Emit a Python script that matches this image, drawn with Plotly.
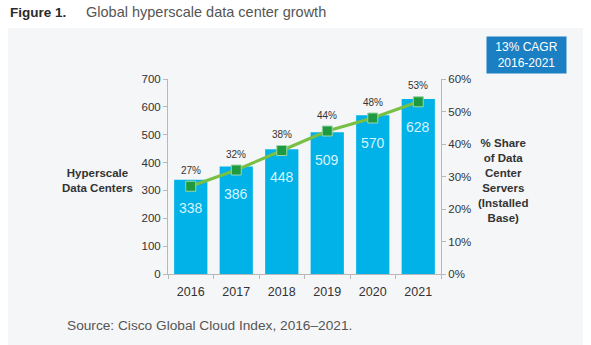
import plotly.graph_objects as go

years = ["2016", "2017", "2018", "2019", "2020", "2021"]
data_centers = [338, 386, 448, 509, 570, 628]
server_share = [27, 32, 38, 44, 48, 53]
share_labels = ["27%", "32%", "38%", "44%", "48%", "53%"]
left_ticks = [0, 100, 200, 300, 400, 500, 600, 700]
right_ticks = [0, 10, 20, 30, 40, 50, 60]
right_tick_labels = ["0%", "10%", "20%", "30%", "40%", "50%", "60%"]

W, H = 591, 345
L, R, T, B = 168, 441, 79, 274
pw, ph = R - L, B - T

def px(x):
    return (x - L) / pw

def py(y):
    return (B - y) / ph

FONT = "Liberation Sans, Arial, sans-serif"
TXT = "#333333"
AX = "#b8b8b8"

fig = go.Figure()
fig.add_trace(go.Bar(
    x=years, y=data_centers, marker=dict(color="#00b2e8", line=dict(width=0)),
    hoverinfo="skip", showlegend=False,
))
fig.add_trace(go.Scatter(
    x=years, y=server_share, yaxis="y2", mode="lines+markers",
    line=dict(color="#78bf44", width=3),
    marker=dict(symbol="square", size=10, color="#1f9a40",
                line=dict(color="#9ad6a6", width=1)),
    cliponaxis=False, showlegend=False, hoverinfo="skip",
))

annotations = []
for i, v in enumerate(data_centers):
    annotations.append(dict(
        x=i, y=v, xref="x", yref="y", text=str(v), showarrow=False,
        yshift=-28, yanchor="middle",
        font=dict(size=14, color="#d9f4ff", family=FONT)))
for i, (s, lab) in enumerate(zip(server_share, share_labels)):
    annotations.append(dict(
        x=i, y=s, xref="x", yref="y2", text=lab, showarrow=False,
        yshift=16, yanchor="middle",
        font=dict(size=10, color=TXT, family=FONT)))

annotations += [
    dict(xref="paper", yref="paper", x=px(8), y=py(12), xanchor="left", yanchor="middle",
         text="<b>Figure 1.</b>", showarrow=False, font=dict(size=13.5, color="#2a2a2a", family=FONT)),
    dict(xref="paper", yref="paper", x=px(84), y=py(12), xanchor="left", yanchor="middle",
         text="Global hyperscale data center growth", showarrow=False,
         font=dict(size=14.5, color="#555555", family=FONT)),
    dict(xref="paper", yref="paper", x=px(65), y=py(325), xanchor="left", yanchor="middle",
         text="Source: Cisco Global Cloud Index, 2016–2021.", showarrow=False,
         font=dict(size=13.7, color="#555555", family=FONT)),
    dict(xref="paper", yref="paper", x=px(97), y=py(180), xanchor="center", yanchor="middle",
         text="<b>Hyperscale<br>Data Centers</b>", showarrow=False, align="center",
         font=dict(size=11.5, color=TXT, family=FONT)),
    dict(xref="paper", yref="paper", x=px(503), y=py(180), xanchor="center", yanchor="middle",
         text="<b>% Share<br>of Data<br>Center<br>Servers<br>(Installed<br>Base)</b>",
         showarrow=False, align="center",
         font=dict(size=11.5, color=TXT, family=FONT)),
    dict(xref="paper", yref="paper", x=px(526.5), y=py(55), xanchor="center", yanchor="middle",
         text="13% CAGR<br>2016-2021", showarrow=False, align="center",
         bgcolor="#1a7fc3", width=77, height=34, borderpad=1,
         font=dict(size=12, color="#ffffff", family=FONT)),
]

shapes = [dict(type="rect", xref="paper", yref="paper", x0=px(8), x1=px(583),
               y0=py(28), y1=py(345), fillcolor="#f5f6f8", line=dict(width=0), layer="below")]

fig.update_layout(
    width=W, height=H,
    margin=dict(l=L, r=W - R, t=T, b=H - B, autoexpand=False),
    paper_bgcolor="#ffffff", plot_bgcolor="rgba(0,0,0,0)",
    font=dict(family=FONT, color=TXT, size=11.5),
    bargap=0.27,
    xaxis=dict(type="category", categoryorder="array", categoryarray=years,
               range=[-0.5, len(years) - 0.5], autorange=False,
               showline=True, linecolor=AX, linewidth=1,
               ticks="outside", tickson="boundaries", ticklen=4, tickcolor=AX,
               ticklabelstandoff=6,
               tickangle=0, tickfont=dict(size=12.5, color=TXT), showgrid=False, zeroline=False),
    yaxis=dict(range=[0, 700], tickvals=left_ticks, showline=True, linecolor=AX, linewidth=1,
               ticks="outside", ticklen=4, tickcolor=AX, showgrid=False, zeroline=False,
               tickfont=dict(size=11.5, color=TXT)),
    yaxis2=dict(range=[0, 60], overlaying="y", side="right", tickvals=right_ticks,
                ticktext=right_tick_labels, showline=True, linecolor=AX, linewidth=1,
                ticks="outside", ticklen=4, tickcolor=AX, showgrid=False, zeroline=False,
                tickfont=dict(size=11.5, color=TXT)),
    annotations=annotations, shapes=shapes,
)

fig.write_html("out.html")
